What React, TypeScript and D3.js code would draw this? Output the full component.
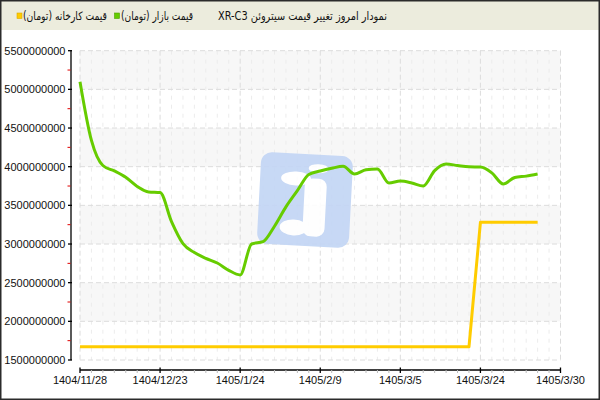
import React from "react";
import * as d3 from "d3";

const xTickLabels = ["1404/11/28", "1404/12/23", "1405/1/24", "1405/2/9", "1405/3/5", "1405/3/24", "1405/3/30"];
const daysPerTick = 7;

const marketPrice = [
  5100000000, 4340000000, 4015000000, 3945000000, 3862000000, 3745000000, 3673000000, 3665000000,
  3290000000, 3005000000, 2890000000, 2815000000, 2754000000, 2660000000, 2600000000, 3000000000,
  3030000000, 3230000000, 3480000000, 3690000000, 3900000000, 3945000000, 3980000000, 4005000000,
  3905000000, 3960000000, 3970000000, 3790000000, 3815000000, 3790000000, 3750000000, 3950000000,
  4035000000, 4015000000, 3998000000, 3996000000, 3920000000, 3776000000, 3860000000, 3878000000,
  3905000000,
];

const factoryPrice = [
  1670000000, 1670000000, 1670000000, 1670000000, 1670000000, 1670000000, 1670000000, 1670000000,
  1670000000, 1670000000, 1670000000, 1670000000, 1670000000, 1670000000, 1670000000, 1670000000,
  1670000000, 1670000000, 1670000000, 1670000000, 1670000000, 1670000000, 1670000000, 1670000000,
  1670000000, 1670000000, 1670000000, 1670000000, 1670000000, 1670000000, 1670000000, 1670000000,
  1670000000, 1670000000, 1670000000, 3280000000, 3280000000, 3280000000, 3280000000, 3280000000,
  3280000000,
];

const yMin = 1500000000;
const yMax = 5500000000;
const yStep = 500000000;

const title = "نمودار امروز تغییر قیمت سیتروئن XR-C3";
const legendFactory = "قیمت کارخانه (تومان)";
const legendMarket = "قیمت بازار (تومان)";

const W = 600;
const H = 400;
const plotLeft = 80;
const plotRight = 560.5;
const plotTop = 50.7;
const plotBottom = 360;
const axisX = 71;
const axisY = 370;

const rtl = (s: string) => "\u202B" + s + "\u202C";

export default function App() {
  const nDays = (xTickLabels.length - 1) * daysPerTick;
  const x = d3.scaleLinear().domain([0, nDays]).range([plotLeft, plotRight]);
  const y = d3.scaleLinear().domain([yMin, yMax]).range([plotBottom, plotTop]);
  const yTicks = d3.range(yMin, yMax + 1, yStep);
  const yMinor = d3.range(yMin + yStep / 2, yMax, yStep);
  const xMajor = d3.range(0, nDays + 1, daysPerTick);
  const xMinor = d3.range(0, nDays + 1, 1).filter((d) => d % daysPerTick !== 0);

  const marketLine = d3
    .line<number>()
    .x((_, i) => x(i))
    .y((d) => y(d))
    .curve(d3.curveMonotoneX);
  const factoryLine = d3
    .line<number>()
    .x((_, i) => x(i))
    .y((d) => y(d));

  const numFont = "'Liberation Sans', Arial, sans-serif";
  const faFont = "'DejaVu Sans', sans-serif";

  return (
    <div style={{ position: "fixed", left: 0, top: 0, width: W, height: H }}>
      <svg width={W} height={H} style={{ display: "block" }}>
        <rect x={0} y={0} width={W} height={H} fill="#ffffff" />
        {/* header */}
        <rect x={0} y={0} width={W} height={30} fill="#ececdd" />
        {/* alternating bands */}
        {yTicks.slice(0, -1).map((t, i) =>
          i % 2 === 1 ? (
            <rect
              key={"band" + t}
              x={plotLeft}
              y={y(t + yStep)}
              width={plotRight - plotLeft}
              height={y(t) - y(t + yStep)}
              fill="#f7f7f7"
            />
          ) : null
        )}
        {/* minor vertical grid */}
        {xMinor.map((d) => (
          <line
            key={"vm" + d}
            x1={x(d)}
            x2={x(d)}
            y1={plotTop}
            y2={plotBottom}
            stroke="#ececec"
            strokeWidth={1}
            strokeDasharray="4,5"
          />
        ))}
        {/* major vertical grid */}
        {xMajor.map((d) => (
          <line
            key={"vM" + d}
            x1={x(d)}
            x2={x(d)}
            y1={plotTop}
            y2={plotBottom}
            stroke="#dcdcdc"
            strokeWidth={1}
            strokeDasharray="5,3"
          />
        ))}
        {/* horizontal grid */}
        {yTicks.map((t) => (
          <line
            key={"h" + t}
            x1={plotLeft}
            x2={plotRight}
            y1={y(t)}
            y2={y(t)}
            stroke="#dcdcdc"
            strokeWidth={1}
            strokeDasharray="5,3"
          />
        ))}
        {/* watermark */}
        <g transform="translate(305,200) rotate(3)" opacity={0.92}>
          <rect x={-46} y={-46} width={92} height={92} rx={11} fill="#c3d6f5" />
          <ellipse cx={-10} cy={-21} rx={15} ry={7} fill="#ffffff" />
          <ellipse cx={12} cy={-32} rx={10} ry={4.5} fill="#ffffff" />
          <rect x={-1} y={-22} width={22} height={58} rx={8} fill="#ffffff" />
          <ellipse cx={-10} cy={28} rx={14} ry={8} fill="#ffffff" />
        </g>
        {/* series */}
        <path d={factoryLine(factoryPrice) || ""} fill="none" stroke="#ffcc00" strokeWidth={3} strokeLinejoin="round" />
        <path d={marketLine(marketPrice) || ""} fill="none" stroke="#66cc00" strokeWidth={3} strokeLinejoin="round" />
        {/* y axis */}
        <line x1={axisX} x2={axisX} y1={plotTop} y2={plotBottom} stroke="#000" strokeWidth={1.3} />
        {yTicks.map((t) => (
          <g key={"yt" + t}>
            <line x1={68} x2={72} y1={y(t)} y2={y(t)} stroke="#000" strokeWidth={1.3} />
            <text
              x={65.5}
              y={y(t)}
              dy="0.35em"
              textAnchor="end"
              fontFamily={numFont}
              fontSize={11}
              fill="#111"
            >
              {String(t)}
            </text>
          </g>
        ))}
        {yMinor.map((t) => (
          <line key={"ym" + t} x1={67.5} x2={70.5} y1={y(t)} y2={y(t)} stroke="#e00000" strokeWidth={1} />
        ))}
        {/* x axis */}
        <line x1={plotLeft} x2={plotRight} y1={axisY} y2={axisY} stroke="#000" strokeWidth={1.3} />
        {xMinor.map((d) => (
          <line key={"xm" + d} x1={x(d)} x2={x(d)} y1={axisY} y2={axisY + 3} stroke="#bbbbbb" strokeWidth={1} />
        ))}
        {xMajor.map((d, i) => (
          <g key={"xt" + d}>
            <line x1={x(d)} x2={x(d)} y1={axisY - 2.5} y2={axisY + 3} stroke="#000" strokeWidth={1.3} />
            <text x={x(d)} y={383.5} textAnchor="middle" fontFamily={numFont} fontSize={11} fill="#111">
              {xTickLabels[i]}
            </text>
          </g>
        ))}
        {/* legend and title */}
        <rect x={17} y={13} width={5} height={5.5} fill="#ffcc00" stroke="#d9a800" strokeWidth={0.6} />
        <text x={23} y={19.5} fontFamily={faFont} fontSize={11.5} fill="#111" textLength={84} lengthAdjust="spacingAndGlyphs">
          {rtl(legendFactory)}
        </text>
        <rect x={114.5} y={13} width={5} height={5.5} fill="#66cc00" stroke="#4fa000" strokeWidth={0.6} />
        <text x={121} y={19.5} fontFamily={faFont} fontSize={11.5} fill="#111" textLength={72} lengthAdjust="spacingAndGlyphs">
          {rtl(legendMarket)}
        </text>
        <text x={218} y={19.5} fontFamily={faFont} fontSize={11.5} fill="#111" textLength={169} lengthAdjust="spacingAndGlyphs">
          {rtl(title)}
        </text>
        {/* frame */}
        <rect x={0.75} y={0.75} width={W - 1.5} height={H - 1.5} fill="none" stroke="#2b2b2b" strokeWidth={1.5} />
      </svg>
    </div>
  );
}
